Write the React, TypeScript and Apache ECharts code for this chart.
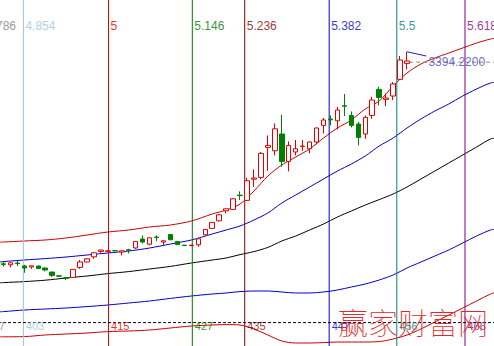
import React, { useEffect, useRef } from 'react';
import * as echarts from 'echarts';

// bar indices shown on the category axis (400 .. 470)
const barIndex: string[] = Array.from({ length: 71 }, (_, i) => String(400 + i));

// candles for bars 400..458 : [open, close, low, high]
const candles: number[][] = [
  [2386, 2383, 2372, 2398], [2381, 2391, 2368, 2392], [2390, 2387, 2375, 2400],
  [2375, 2365, 2341, 2381], [2370, 2376, 2361, 2377], [2375, 2362, 2360, 2377],
  [2365, 2355, 2348, 2368], [2345, 2328, 2321, 2346], [2326, 2324, 2320, 2330],
  [2316, 2314, 2305, 2321], [2318, 2358, 2316, 2359], [2368, 2395, 2361, 2405],
  [2395, 2411, 2394, 2415], [2421, 2441, 2411, 2445], [2448, 2455, 2441, 2456],
  [2448, 2451, 2446, 2453], [2452, 2451, 2449, 2454], [2445, 2451, 2428, 2452],
  [2456, 2454, 2438, 2461], [2465, 2498, 2462, 2499], [2510, 2495, 2488, 2528],
  [2484, 2516, 2478, 2518], [2520, 2517, 2499, 2528], [2495, 2501, 2481, 2502],
  [2532, 2506, 2505, 2535], [2498, 2482, 2480, 2499], [2479, 2477, 2475, 2481],
  [2477, 2479, 2474, 2481], [2481, 2511, 2471, 2512], [2531, 2558, 2529, 2560],
  [2563, 2593, 2561, 2595], [2601, 2631, 2598, 2633], [2651, 2661, 2638, 2663],
  [2658, 2711, 2656, 2714], [2729, 2727, 2705, 2748], [2703, 2801, 2700, 2815],
  [2809, 2815, 2771, 2858], [2818, 2938, 2808, 2945], [2968, 2978, 2851, 3028],
  [2951, 3061, 2928, 3088], [3035, 2898, 2871, 3131], [2898, 2978, 2848, 2998],
  [2945, 2961, 2928, 3005], [2972, 2975, 2951, 3005], [2961, 2995, 2938, 2998],
  [2995, 3065, 2985, 3068], [3078, 3105, 3038, 3115], [3110, 3106, 3078, 3128],
  [3101, 3155, 3058, 3171], [3176, 3174, 3125, 3235], [3128, 3078, 3068, 3148],
  [3085, 3018, 2978, 3095], [3035, 3118, 3011, 3128], [3128, 3205, 3111, 3221],
  [3258, 3218, 3178, 3271], [3208, 3215, 3175, 3238], [3225, 3285, 3205, 3295],
  [3308, 3405, 3305, 3425], [3388, 3400, 3358, 3446],
];

// band lines: [bar position, price]
const upperRed: number[][] = [
  [399, 2493], [400, 2495], [403, 2500], [406, 2505], [409, 2515], [412, 2530], [415, 2545],
  [418, 2555], [421, 2570], [424, 2580], [427, 2600], [430, 2635], [432, 2655], [434, 2685],
  [436, 2750], [438, 2825], [440, 2880], [442, 2920], [444, 2960], [446, 3015], [448, 3065],
  [450, 3105], [452, 3160], [454, 3200], [456, 3275], [458, 3340], [460, 3385], [462, 3415],
  [464, 3440], [466, 3465], [468, 3490], [470, 3510], [471, 3515],
];
const upperBlue: number[][] = [
  [399, 2393], [400, 2397], [403, 2405], [406, 2412], [409, 2420], [412, 2430], [415, 2440],
  [418, 2450], [421, 2465], [424, 2485], [427, 2505], [430, 2535], [432, 2555], [434, 2575],
  [436, 2605], [438, 2640], [440, 2690], [442, 2730], [444, 2770], [446, 2810], [448, 2850],
  [450, 2885], [452, 2925], [454, 2975], [456, 3015], [458, 3065], [460, 3110], [462, 3150],
  [464, 3185], [466, 3225], [468, 3260], [470, 3290], [471, 3295],
];
const middleBlack: number[][] = [
  [399, 2290], [400, 2292], [403, 2297], [406, 2304], [409, 2315], [412, 2325], [415, 2337],
  [418, 2347], [421, 2360], [424, 2373], [427, 2390], [430, 2405], [432, 2415], [434, 2432],
  [436, 2447], [438, 2468], [440, 2500], [442, 2525], [444, 2555], [446, 2585], [448, 2620],
  [450, 2650], [452, 2680], [454, 2707], [456, 2735], [458, 2770], [460, 2810], [462, 2850],
  [464, 2890], [466, 2930], [468, 2970], [470, 3010], [471, 3015],
];
const lowerBlue: number[][] = [
  [399, 2145], [400, 2147], [403, 2155], [406, 2160], [409, 2165], [412, 2172], [415, 2180],
  [418, 2190], [421, 2200], [424, 2213], [427, 2225], [430, 2235], [432, 2240], [434, 2247],
  [436, 2250], [438, 2250], [440, 2245], [442, 2240], [444, 2240], [446, 2245], [448, 2255],
  [450, 2270], [452, 2285], [454, 2305], [456, 2330], [458, 2365], [460, 2395], [462, 2425],
  [464, 2455], [466, 2490], [468, 2525], [470, 2555], [471, 2560],
];
const lowerRed: number[][] = [
  [399, 2021], [400, 2021], [403, 2022], [406, 2030], [409, 2035], [412, 2040], [415, 2047],
  [418, 2050], [421, 2055], [424, 2065], [427, 2075], [430, 2080], [432, 2082], [434, 2080],
  [436, 2060], [438, 2030], [440, 2000], [442, 1990], [444, 1990], [446, 1992], [448, 1995],
  [450, 1995], [452, 1995], [454, 1997], [456, 2010], [458, 2030], [460, 2060], [462, 2095],
  [464, 2130], [466, 2165], [468, 2200], [470, 2235], [471, 2245],
];

// Fibonacci time zones
const fibRatios: string[] = ['4.786', '4.854', '5', '5.146', '5.236', '5.382', '5.5', '5.618'];
const fibBars: string[] = ['397', '403', '415', '427', '435', '447', '456', '466'];
const fibPos: number[] = [397.2, 402.86, 415.1, 427.14, 434.67, 446.81, 456.53, 466.33];

const basePrice = 2092; // dashed reference line
const lastPrice = 3394.22;
const lastPriceFrom = 458.3;
const flagLine: number[][] = [[458, 3446], [460.76, 3425]];

// axis extents
const priceMin = 1975;
const priceMax = 3705;
const posMin = 399.5;
const posMax = 470.5;
const topLabelPrice = 3575;
const bottomLabelPrice = 2073;
const lastLabelPos = 461;

// styles
const fibColors = ['#808080', '#9cc3e0', '#d00000', '#007800', '#800000', '#0000c0', '#008080', '#800080'];
const RED = '#e00000';
const GREEN = '#008000';
const FONT = 'Liberation Sans, Arial, sans-serif';

function bandSeries(name: string, data: number[][], color: string) {
  return {
    name,
    type: 'line',
    xAxisIndex: 1,
    yAxisIndex: 0,
    data,
    smooth: 0.3,
    showSymbol: false,
    symbol: 'none',
    silent: true,
    z: 2,
    lineStyle: { color, width: 1 },
  };
}

export default function App() {
  const ref = useRef<HTMLDivElement>(null);
  useEffect(() => {
    if (!ref.current) return;
    const chart = echarts.init(ref.current, null, { renderer: 'svg' });

    const fibLineSeries = fibPos.map((p, i) => ({
      type: 'line',
      xAxisIndex: 1,
      yAxisIndex: 0,
      data: [[p, priceMin], [p, priceMax]],
      showSymbol: false,
      symbol: 'none',
      silent: true,
      z: 2,
      lineStyle: { color: fibColors[i], width: 1 },
    }));

    const option: any = {
      animation: false,
      backgroundColor: '#ffffff',
      textStyle: { fontFamily: FONT },
      grid: { left: -0.5, top: 0, width: 497, height: 346, containLabel: false },
      xAxis: [
        { type: 'category', data: barIndex, boundaryGap: true, show: false },
        { type: 'value', min: posMin, max: posMax, show: false },
      ],
      yAxis: [{ type: 'value', min: priceMin, max: priceMax, show: false, splitLine: { show: false } }],
      series: [
        bandSeries('upperRed', upperRed, '#cc0000'),
        bandSeries('upperBlue', upperBlue, '#0000c8'),
        bandSeries('middle', middleBlack, '#000000'),
        bandSeries('lowerBlue', lowerBlue, '#0000c8'),
        bandSeries('lowerRed', lowerRed, '#cc0000'),
        ...fibLineSeries,
        {
          type: 'line',
          xAxisIndex: 1,
          data: [[posMin - 1, basePrice], [posMax + 1, basePrice]],
          showSymbol: false,
          symbol: 'none',
          silent: true,
          z: 2,
          lineStyle: { color: '#000', width: 1, type: [3, 2] },
        },
        {
          type: 'line',
          xAxisIndex: 1,
          data: [[lastPriceFrom, lastPrice], [posMax + 1, lastPrice]],
          showSymbol: false,
          symbol: 'none',
          silent: true,
          z: 2,
          lineStyle: { color: '#8a8a8a', width: 1, type: [4, 3] },
        },
        {
          type: 'line',
          xAxisIndex: 1,
          data: flagLine,
          showSymbol: false,
          symbol: 'none',
          silent: true,
          z: 3,
          lineStyle: { color: '#2020c0', width: 1 },
        },
        {
          type: 'candlestick',
          xAxisIndex: 0,
          yAxisIndex: 0,
          data: candles,
          barWidth: 5,
          silent: true,
          z: 3,
          itemStyle: {
            color: '#ffffff',
            color0: GREEN,
            borderColor: RED,
            borderColor0: GREEN,
            borderWidth: 1,
          },
        },
        {
          type: 'scatter',
          xAxisIndex: 1,
          yAxisIndex: 0,
          symbolSize: 1,
          clip: false,
          silent: true,
          z: 4,
          itemStyle: { color: 'rgba(0,0,0,0)' },
          label: { show: true, position: 'right', distance: 1.5, fontSize: 12, fontFamily: FONT },
          data: fibPos.map((p, i) => ({
            value: [p, topLabelPrice],
            label: { formatter: fibRatios[i], color: fibColors[i] },
          })),
        },
        {
          type: 'scatter',
          xAxisIndex: 1,
          yAxisIndex: 0,
          symbolSize: 1,
          clip: false,
          silent: true,
          z: 4,
          itemStyle: { color: 'rgba(0,0,0,0)' },
          label: { show: true, position: 'right', distance: 2, fontSize: 11, fontFamily: FONT },
          data: fibPos.map((p, i) => ({
            value: [p, bottomLabelPrice],
            label: { formatter: fibBars[i], color: fibColors[i] },
          })),
        },
        {
          type: 'scatter',
          xAxisIndex: 1,
          yAxisIndex: 0,
          symbolSize: 1,
          clip: false,
          silent: true,
          z: 4,
          itemStyle: { color: 'rgba(0,0,0,0)' },
          label: {
            show: true,
            position: 'right',
            distance: 0,
            fontSize: 12,
            fontFamily: FONT,
            color: '#4848b8',
            formatter: lastPrice.toFixed(4),
          },
          data: [[lastLabelPos, lastPrice]],
        },
      ],
      graphic: [
        {
          type: 'text',
          left: 338,
          top: 306,
          z: 100,
          silent: true,
          style: {
            text: '赢家财富网',
            fontSize: 30,
            fontFamily: 'Noto Sans CJK SC',
            fontWeight: 100,
            fill: '#e02828',
          },
        },
      ],
    };

    chart.setOption(option);
    return () => chart.dispose();
  }, []);

  return (
    <div
      ref={ref}
      style={{ position: 'fixed', left: 0, top: 0, width: 494, height: 346, background: '#fff' }}
    />
  );
}
